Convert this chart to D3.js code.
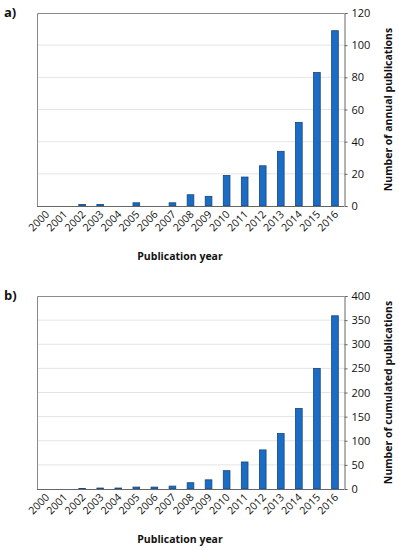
<!DOCTYPE html>
<html>
<head>
<meta charset="utf-8">
<script src="https://cdn.jsdelivr.net/npm/d3@7"></script>
<style>
  body { margin: 0; background: #fff; }
  text { font-family: "Open Sans", "DejaVu Sans", sans-serif; fill: #111; }
</style>
</head>
<body>
<div id="chart"></div>
<script>
// categories and values
var years = ["2000", "2001", "2002", "2003", "2004", "2005", "2006", "2007", "2008",
             "2009", "2010", "2011", "2012", "2013", "2014", "2015", "2016"];
var annual = [0, 0, 1, 1, 0, 2, 0, 2, 7, 6, 19, 18, 25, 34, 52, 83, 109];
var cumulated = [0, 0, 1, 2, 2, 4, 4, 6, 13, 19, 38, 56, 81, 115, 167, 250, 359];
var annualTicks = [0, 20, 40, 60, 80, 100, 120];
var cumulatedTicks = [0, 50, 100, 150, 200, 250, 300, 350, 400];

var svg = d3.select("#chart")
    .append("svg")
    .attr("width", 399)
    .attr("height", 550);

// draw one panel
function drawPanel(label, values, ticks, yTitle, top, bottom, xTitleY) {
    var left = 37, right = 344;

    var x = d3.scaleBand()
        .domain(years)
        .range([left, right])
        .paddingInner(0.63)
        .paddingOuter(0.315);

    var y = d3.scaleLinear()
        .domain([0, ticks[ticks.length - 1]])
        .range([bottom, top]);

    var g = svg.append("g");

    // grid lines
    g.append("g")
        .selectAll("line")
        .data(ticks.slice(1, -1))
        .enter()
        .append("line")
        .attr("x1", left)
        .attr("x2", right)
        .attr("y1", function(d) { return y(d); })
        .attr("y2", function(d) { return y(d); })
        .attr("stroke", "#e4e4e4")
        .attr("stroke-width", 1);

    // frame: left and top
    g.append("path")
        .attr("d", "M" + (left + 0.5) + "," + bottom + "V" + (top + 0.5) + "H" + right)
        .attr("fill", "none")
        .attr("stroke", "#8a8a8a")
        .attr("stroke-width", 1);

    // bars
    g.append("g")
        .selectAll("rect")
        .data(values)
        .enter()
        .append("rect")
        .attr("x", function(d, i) { return x(years[i]); })
        .attr("width", x.bandwidth())
        .attr("y", function(d) { return y(d); })
        .attr("height", function(d) { return bottom - y(d); })
        .attr("fill", "#1a6cc4")
        .attr("stroke", "#17467e")
        .attr("stroke-width", 0.8);

    // bottom axis line
    g.append("line")
        .attr("x1", left)
        .attr("x2", right)
        .attr("y1", bottom + 0.5)
        .attr("y2", bottom + 0.5)
        .attr("stroke", "#666")
        .attr("stroke-width", 1);

    // right axis
    var yAxis = g.append("g")
        .attr("transform", "translate(" + (right + 0.5) + ",0)")
        .call(d3.axisRight(y).tickValues(ticks).tickSize(3).tickPadding(4));
    yAxis.select(".domain").attr("stroke", "#666");
    yAxis.selectAll(".tick line").attr("stroke", "#666");
    yAxis.selectAll("text")
        .style("font-family", "'Open Sans', sans-serif")
        .style("font-size", "11px")
        .attr("fill", "#222");

    // year labels
    g.append("g")
        .selectAll("text")
        .data(years)
        .enter()
        .append("text")
        .attr("text-anchor", "end")
        .attr("transform", function(d) {
            var cx = x(d) + x.bandwidth() / 2 + 4;
            return "translate(" + cx + "," + (bottom + 9) + ") rotate(-45)";
        })
        .style("font-size", "10.5px")
        .text(function(d) { return d; });

    // x title
    g.append("text")
        .attr("text-anchor", "middle")
        .attr("x", 180)
        .attr("y", xTitleY)
        .style("font-size", "10.5px")
        .style("font-weight", "bold")
        .text("Publication year");

    // y title
    g.append("text")
        .attr("text-anchor", "middle")
        .attr("transform", "translate(392," + ((top + bottom) / 2) + ") rotate(-90)")
        .style("font-size", "10.5px")
        .style("font-weight", "bold")
        .text(yTitle);

    // panel label
    g.append("text")
        .attr("x", 4)
        .attr("y", top + 4)
        .style("font-size", "13px")
        .style("font-weight", "bold")
        .attr("fill", "#000")
        .text(label);
}

drawPanel("a)", annual, annualTicks, "Number of annual publications", 13, 206, 260);
drawPanel("b)", cumulated, cumulatedTicks, "Number of cumulated publications", 296, 489, 543);
</script>
</body>
</html>
